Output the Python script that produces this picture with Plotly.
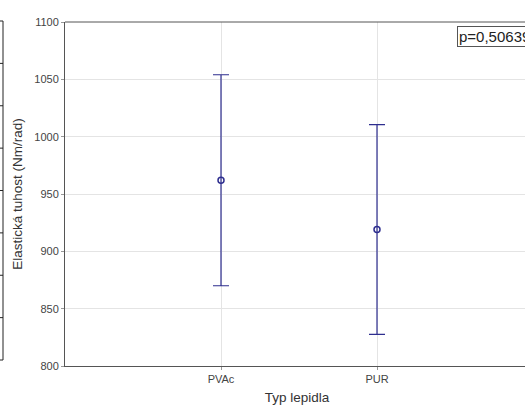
import plotly.graph_objects as go

categories = ["PVAc", "PUR"]
means = [962, 919]
err_upper = [92, 91.5]
err_lower = [92, 91.5]
y_ticks = [800, 850, 900, 950, 1000, 1050, 1100]
p_text = "p=0,50639"

FONT = "Liberation Sans, Arial, sans-serif"
NAVY = "#2e2e8f"
W, H = 529, 406
ML, MR, MT, MB = 65, 0, 22, 40
PW, PH = W - ML - MR, H - MT - MB
UNIT = 156.0  # pixels per category step

fig = go.Figure()
fig.add_trace(go.Scatter(
    x=categories, y=means, mode="markers",
    marker=dict(symbol="circle-open", size=6, color=NAVY, line=dict(width=1.5, color=NAVY)),
    error_y=dict(type="data", symmetric=False, array=err_upper, arrayminus=err_lower,
                 color=NAVY, thickness=1.2, width=8),
    showlegend=False,
))

# decorative remnant of a neighbouring chart frame at the far left
def px_x(px):
    return (px - ML) / PW

def px_y(py):
    return (H - MB - py) / PH

shapes = []
line_style = dict(color="#222222", width=1)
shapes.append(dict(type="line", xref="paper", yref="paper", x0=px_x(3), x1=px_x(3), y0=px_y(21), y1=px_y(360), line=line_style))
shapes.append(dict(type="line", xref="paper", yref="paper", x0=px_x(0), x1=px_x(3), y0=px_y(21), y1=px_y(21), line=line_style))
shapes.append(dict(type="line", xref="paper", yref="paper", x0=px_x(0), x1=px_x(3), y0=px_y(360), y1=px_y(360), line=line_style))
for k in range(1, 8):
    ty = 21 + k * (360 - 21) / 8
    shapes.append(dict(type="line", xref="paper", yref="paper", x0=px_x(0), x1=px_x(3), y0=px_y(ty), y1=px_y(ty), line=line_style))
# top frame line
shapes.append(dict(type="line", xref="paper", yref="paper", x0=0, x1=1, y0=1, y1=1, line=dict(color="#555555", width=1)))

fig.update_layout(
    width=W, height=H,
    margin=dict(l=ML, r=MR, t=MT, b=MB),
    paper_bgcolor="white", plot_bgcolor="white",
    font=dict(family=FONT, color="#444444", size=11),
    shapes=shapes,
    xaxis=dict(
        range=[-1, -1 + PW / UNIT], showline=True, linecolor="#555555", linewidth=1,
        showgrid=True, gridcolor="#e4e4e4", gridwidth=1,
        ticks="outside", ticklen=3, tickcolor="#999999",
        tickfont=dict(size=11, color="#444444"),
        title=dict(text="Typ lepidla", font=dict(size=13.5, color="#333333"), standoff=8),
        zeroline=False,
    ),
    yaxis=dict(
        range=[800, 1100], tickvals=y_ticks, showline=True, linecolor="#555555", linewidth=1,
        showgrid=True, gridcolor="#e4e4e4", gridwidth=1,
        ticks="outside", ticklen=3, tickcolor="#999999",
        tickfont=dict(size=11, color="#444444"),
        title=dict(text="Elastická tuhost (Nm/rad)", font=dict(size=13.5, color="#333333"), standoff=8),
        zeroline=False,
    ),
    annotations=[dict(
        text=p_text, xref="paper", yref="paper", x=px_x(457), y=px_y(26),
        xanchor="left", yanchor="top", showarrow=False,
        font=dict(size=15, color="#222222", family=FONT),
        bordercolor="#555555", borderwidth=1, borderpad=1, bgcolor="white",
    )],
)

fig.write_html(
    "out.html",
    config={"displayModeBar": False},
    post_script="document.body.style.margin='0';document.body.style.overflow='hidden';",
)
